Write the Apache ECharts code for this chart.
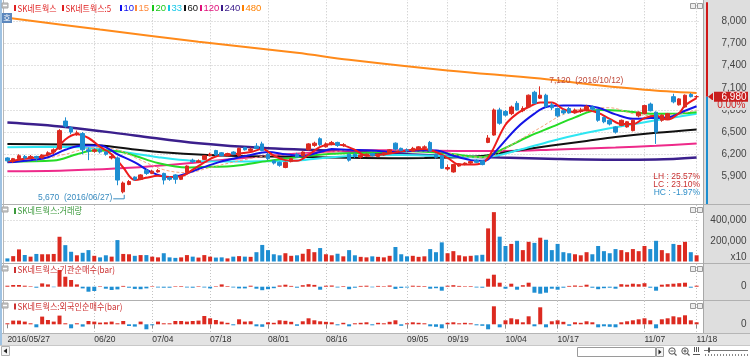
<!DOCTYPE html>
<html><head><meta charset="utf-8">
<script src="https://cdn.jsdelivr.net/npm/echarts@6.0.0/dist/echarts.min.js"></script>
<style>html,body{margin:0;padding:0;background:#fff;overflow:hidden}#c{width:750px;height:357px}</style>
</head><body><div id="c"></div>
<script>
// ---------------- DATA ----------------
const dates = ["2016/05/27","2016/05/30","2016/05/31","2016/06/01","2016/06/02","2016/06/03","2016/06/07","2016/06/08","2016/06/09","2016/06/10","2016/06/13","2016/06/14","2016/06/15","2016/06/16","2016/06/17","2016/06/20","2016/06/21","2016/06/22","2016/06/23","2016/06/24","2016/06/27","2016/06/28","2016/06/29","2016/06/30","2016/07/01","2016/07/04","2016/07/05","2016/07/06","2016/07/07","2016/07/08","2016/07/11","2016/07/12","2016/07/13","2016/07/14","2016/07/15","2016/07/18","2016/07/19","2016/07/20","2016/07/21","2016/07/22","2016/07/25","2016/07/26","2016/07/27","2016/07/28","2016/07/29","2016/08/01","2016/08/02","2016/08/03","2016/08/04","2016/08/05","2016/08/08","2016/08/09","2016/08/10","2016/08/11","2016/08/12","2016/08/16","2016/08/17","2016/08/18","2016/08/19","2016/08/22","2016/08/23","2016/08/24","2016/08/25","2016/08/26","2016/08/29","2016/08/30","2016/08/31","2016/09/01","2016/09/02","2016/09/05","2016/09/06","2016/09/07","2016/09/08","2016/09/09","2016/09/12","2016/09/13","2016/09/19","2016/09/20","2016/09/21","2016/09/22","2016/09/23","2016/09/26","2016/09/27","2016/09/28","2016/09/29","2016/09/30","2016/10/04","2016/10/05","2016/10/06","2016/10/07","2016/10/10","2016/10/11","2016/10/12","2016/10/13","2016/10/14","2016/10/17","2016/10/18","2016/10/19","2016/10/20","2016/10/21","2016/10/24","2016/10/25","2016/10/26","2016/10/27","2016/10/28","2016/10/31","2016/11/01","2016/11/02","2016/11/03","2016/11/04","2016/11/07","2016/11/08","2016/11/09","2016/11/10","2016/11/11","2016/11/14","2016/11/15","2016/11/16","2016/11/17","2016/11/18"];

const openP  = [6150,6100,6140,6170,6150,6170,6150,6190,6230,6270,6650,6560,6470,6480,6260,6240,6260,6230,6150,6150,5690,5790,5890,5860,5980,5940,5960,5940,5880,5920,5860,5950,6120,6090,6130,6180,6250,6220,6180,6230,6180,6290,6250,6310,6340,6200,6110,6090,6020,6100,6200,6180,6260,6320,6410,6300,6330,6360,6320,6200,6200,6160,6180,6210,6170,6190,6220,6350,6280,6260,6240,6270,6290,6360,6200,6180,6000,5960,6040,6060,6080,6120,6110,6360,6460,6800,6780,6750,6890,6790,6840,7040,6960,7000,6870,6820,6790,6820,6760,6780,6790,6840,6800,6700,6660,6570,6590,6570,6520,6720,6750,6880,6770,6660,6680,6980,6870,6840,7010,6980];
const closeP = [6110,6140,6180,6150,6170,6150,6190,6220,6260,6520,6580,6500,6490,6260,6240,6260,6230,6200,6170,5850,5810,5830,5860,5920,5940,5970,5980,5850,5860,5860,5900,6040,6100,6110,6180,6200,6190,6180,6210,6200,6280,6260,6270,6280,6250,6140,6080,6050,6090,6140,6160,6230,6340,6350,6330,6340,6360,6320,6330,6120,6170,6190,6200,6180,6200,6220,6260,6270,6250,6250,6280,6300,6300,6250,6160,6010,6020,6060,6070,6080,6100,6090,6060,6420,6800,6620,6730,6840,6800,6820,7000,6890,7000,6850,6830,6720,6760,6760,6800,6800,6850,6810,6660,6640,6610,6500,6660,6640,6660,6770,6860,6790,6500,6730,6750,6910,6950,7000,6980,6980];
const lowP   = [6090,6080,6120,6130,6140,6100,6140,6170,6200,6260,6560,6470,6450,6200,6120,6220,6210,6180,6130,5780,5670,5780,5840,5850,5920,5930,5950,5790,5840,5800,5850,5940,6080,6080,6120,6170,6180,6170,6170,6190,6170,6250,6240,6270,6240,6120,6060,6030,6010,6090,6150,6170,6250,6300,6310,6290,6320,6300,6300,6100,6150,6140,6170,6170,6160,6180,6210,6250,6240,6230,6230,6260,6270,6240,6140,6000,5980,5950,6030,6050,6060,6080,6050,6350,6450,6600,6710,6730,6790,6770,6830,6880,6950,6830,6800,6700,6740,6750,6750,6760,6780,6790,6640,6620,6590,6480,6580,6560,6510,6700,6740,6780,6340,6640,6670,6890,6860,6830,6970,6960];
const highP  = [6160,6150,6200,6190,6190,6180,6200,6240,6280,6540,6700,6580,6520,6500,6290,6280,6280,6240,6190,6170,5830,5850,5900,5930,6000,5990,6000,5950,5900,5930,5910,6050,6140,6130,6190,6220,6260,6230,6220,6240,6290,6300,6290,6350,6370,6220,6120,6100,6100,6150,6220,6240,6350,6370,6430,6360,6380,6370,6350,6210,6220,6200,6210,6220,6210,6230,6270,6360,6290,6280,6300,6310,6320,6380,6210,6190,6060,6070,6080,6090,6110,6130,6120,6460,6820,6830,6800,6860,6920,6850,7010,7060,7120,7020,6900,6830,6810,6840,6820,6830,6870,6860,6810,6710,6680,6580,6670,6650,6670,6780,6870,6900,6780,6740,6760,7020,6960,7010,7030,7000];

// trading volume (axis units, x10 shares)
const volume = [30000,52000,117000,63000,47000,73000,70000,70000,73000,239000,158000,94000,60000,84000,110000,55000,40000,60000,47000,207000,73000,70000,55000,62000,62000,47000,40000,80000,40000,35000,40000,62000,47000,38000,62000,47000,38000,40000,30000,47000,52000,47000,45000,90000,160000,110000,70000,60000,80000,55000,60000,75000,120000,90000,130000,70000,60000,75000,50000,110000,60000,45000,40000,50000,45000,40000,55000,140000,70000,50000,55000,45000,50000,120000,90000,185000,80000,100000,60000,50000,55000,60000,65000,320000,477000,240000,150000,170000,200000,110000,190000,180000,230000,210000,110000,170000,90000,80000,70000,60000,90000,70000,150000,100000,80000,120000,110000,90000,120000,100000,150000,120000,200000,110000,80000,170000,160000,190000,90000,60000];

// institutional net buying (bar)
const instNet = [10,17,17,10,5,-10,33,23,-5,167,100,67,23,-17,-50,-43,5,-20,-33,-27,8,-10,-22,-25,-17,5,-8,-10,-10,5,6,-8,-10,5,-8,-17,5,23,6,-8,-17,-17,10,-20,-35,-25,-15,12,20,8,-10,15,25,18,-30,10,12,-8,6,-25,-10,8,10,-6,8,5,12,-22,-12,-8,10,8,6,-20,-15,-40,10,15,8,5,6,-8,-10,80,120,40,-20,30,-30,15,40,-60,-70,-60,-20,-30,-10,8,12,8,20,-10,-25,-15,-10,-20,25,20,30,25,35,-10,-40,20,25,30,35,40,-10,10];

// foreign net buying (bar)
const foreignNet = [10,37,37,27,10,-30,77,43,27,87,10,-40,10,-23,33,27,17,20,27,10,33,-17,-23,27,-50,-10,27,10,10,33,33,27,33,37,83,60,43,27,15,-10,50,27,30,-20,-25,20,15,40,35,25,-15,30,60,40,30,25,20,-10,15,-20,10,15,20,-10,15,10,25,40,-15,10,20,15,10,-20,-25,-40,15,20,10,15,10,-10,-15,-50,180,-30,40,60,50,20,80,-20,170,-30,30,40,25,-15,20,15,30,20,-30,-20,-25,-30,20,30,40,50,60,40,-40,50,60,80,70,90,40,20];

// moving averages: [dayIndex, value]
const ma5 = [[0,6100],[3,6140],[6,6170],[8,6230],[10,6400],[12,6470],[14,6420],[16,6300],[18,6200],[20,6020],[22,5850],[24,5880],[26,5910],[28,5890],[30,5900],[32,5990],[34,6090],[36,6170],[39,6200],[42,6230],[44,6270],[46,6180],[48,6120],[50,6110],[52,6190],[54,6300],[56,6340],[58,6320],[60,6260],[62,6180],[64,6190],[66,6210],[68,6240],[70,6260],[72,6270],[74,6230],[76,6150],[78,6060],[80,6060],[82,6080],[83,6150],[84,6290],[86,6600],[88,6750],[90,6840],[92,6900],[94,6900],[96,6810],[98,6770],[100,6800],[102,6760],[104,6680],[106,6610],[108,6610],[110,6690],[112,6720],[114,6670],[116,6760],[117,6860],[119,6960]];
const ma10 = [[0,6090],[4,6120],[7,6160],[10,6260],[13,6320],[16,6320],[19,6200],[22,6090],[25,5950],[28,5890],[31,5940],[33,6000],[36,6080],[39,6140],[42,6190],[45,6230],[48,6200],[51,6180],[54,6230],[56,6270],[59,6260],[63,6250],[67,6230],[71,6250],[74,6250],[77,6180],[80,6120],[82,6110],[83,6130],[85,6300],[88,6560],[91,6750],[93,6840],[96,6860],[99,6860],[102,6830],[105,6740],[108,6680],[111,6690],[114,6700],[117,6790],[119,6850]];
const ma15 = [[0,6100],[5,6120],[10,6200],[15,6290],[19,6260],[23,6120],[27,5990],[31,5950],[35,6020],[40,6110],[45,6180],[50,6200],[55,6220],[60,6260],[65,6240],[70,6240],[75,6230],[80,6160],[83,6160],[86,6280],[89,6420],[92,6560],[96,6740],[100,6820],[104,6830],[108,6750],[112,6720],[116,6750],[119,6800]];
const ma20 = [[0,6100],[8,6115],[12,6200],[15,6250],[19,6240],[22,6180],[26,6080],[31,6020],[35,6030],[39,6040],[45,6110],[50,6160],[56,6205],[60,6215],[66,6230],[70,6240],[76,6210],[82,6160],[85,6250],[90,6440],[94,6570],[98,6700],[102,6800],[106,6790],[111,6750],[115,6750],[119,6770]];
const ma33 = [[0,6295],[8,6300],[14,6285],[20,6230],[26,6160],[32,6110],[38,6100],[44,6105],[50,6115],[56,6160],[62,6185],[68,6190],[74,6180],[80,6160],[83,6165],[88,6250],[94,6380],[100,6490],[106,6580],[112,6660],[119,6750]];
const ma60 = [[0,6340],[10,6332],[16,6320],[22,6265],[28,6220],[33,6195],[40,6175],[45,6168],[52,6162],[59,6152],[66,6147],[72,6148],[78,6158],[82,6175],[88,6250],[94,6318],[100,6380],[105,6432],[112,6490],[119,6536]];
const ma120 = [[0,5970],[10,5980],[22,6020],[33,6090],[45,6180],[56,6236],[62,6255],[70,6250],[78,6245],[86,6245],[95,6265],[105,6290],[112,6315],[119,6345]];
const ma240 = [[0,6630],[10,6570],[22,6455],[33,6350],[45,6282],[56,6250],[65,6215],[75,6180],[85,6155],[95,6135],[105,6125],[112,6128],[119,6155]];
const ma480 = [[0,8050],[16,7890],[33,7725],[50,7575],[59,7480],[76,7335],[92,7225],[102,7135],[110,7075],[119,7030]];

// tick labels
const priceTicks = [5900,6200,6500,6800,7100,7400,7700,8000];
const volumeTicks = [200000,400000];
const dateLabelIdx = [0,15,25,35,45,55,69,76,86,95,110,119];

// ---------------- CHART ----------------
const chart = echarts.init(document.getElementById('c'), null, {renderer:'canvas'});
const FONT = "'Liberation Sans', Arial, sans-serif";
const KFONT = "'Noto Sans CJK KR', sans-serif";
const RED = '#dc2a20', BLUE = '#1e8ed2';
const GRIDC = '#c4c4c4';
const labelSet = new Set(dateLabelIdx);
const gridSet = new Set(dateLabelIdx.filter(i => i > 0));
const fmt = v => Number(v).toLocaleString('en-US');

const GL = 4.5, GW = 695;
const grids = [
  {left:GL, width:GW, top:-0.7, height:199.2, outerBoundsMode:'none'},
  {left:GL, width:GW, top:205, height:56.5, outerBoundsMode:'none'},
  {left:GL, width:GW, top:264, height:37, outerBoundsMode:'none'},
  {left:GL, width:GW, top:301, height:32, outerBoundsMode:'none'}
];

function xa(i, showLabels){
  return {
    type:'category', gridIndex:i, data:dates, boundaryGap:true,
    axisLine:{show:false},
    axisTick:{show:showLabels, interval:(idx)=>labelSet.has(idx), alignWithLabel:true, length:4, lineStyle:{color:'#888'}},
    axisLabel:{show:showLabels, interval:(idx)=>labelSet.has(idx), formatter:(v,idx)=> idx===0 ? v : v.slice(5),
      align:'left', margin:2, fontSize:8.5, color:'#333', fontFamily:FONT},
    splitLine:{show:true, interval:(idx)=>gridSet.has(idx), alignWithLabel:true, lineStyle:{color:GRIDC, type:[1,2], width:1}}
  };
}
function ya(i, min, max, interval, fmtFn, split){
  return {
    type:'value', gridIndex:i, min:min, max:max, interval:interval, position:'right', offset:7,
    axisLine:{show:false}, axisTick:{show:false},
    axisLabel:{margin:40, align:'right', fontSize:10, color:'#444', fontFamily:FONT, formatter:fmtFn},
    splitLine:{show:split, showMinLine:false, showMaxLine:false, lineStyle:{color:GRIDC, type:[1,2], width:1}}
  };
}

const candleData = openP.map((o,i)=>[o, closeP[i], lowP[i], highP[i]]);
const upDay = openP.map((o,i)=> closeP[i] >= o);

function maSeries(name, data, color, width, dashed){
  return {name, type:'line', xAxisIndex:0, yAxisIndex:0, data, smooth:0.35, showSymbol:false, symbol:'none',
    silent:true, clip:true, z:3, lineStyle:{color, width, type: dashed ? [3,2] : 'solid'}};
}

const option = {
  animation:false,
  backgroundColor:'#ffffff',
  grid: grids,
  xAxis: [xa(0,false), xa(1,false), xa(2,false), xa(3,true)],
  yAxis: [
    ya(0, 5600, 8300, 300, v => priceTicks.includes(v) ? fmt(v) : '', true),
    ya(1, 0, 546000, 200000, v => volumeTicks.includes(v) ? fmt(v) : '', true),
    ya(2, -143, 227, 143, v => v === 0 ? '0' : '', false),
    ya(3, -87, 233, 87, v => v === 0 ? '0' : '', false)
  ],
  series: [
    maSeries('480', ma480, '#ff8a1a', 2),
    maSeries('240', ma240, '#3b1f8c', 2.5),
    maSeries('120', ma120, '#ee2a8a', 2),
    maSeries('60', ma60, '#111111', 2),
    maSeries('33', ma33, '#2ee6f2', 2),
    maSeries('20', ma20, '#26dc26', 2),
    maSeries('15', ma15, '#f5a57c', 1, true),
    {name:'SK네트웍스', type:'candlestick', xAxisIndex:0, yAxisIndex:0, data:candleData, barWidth:4, z:4,
      itemStyle:{color:RED, color0:BLUE, borderColor:RED, borderColor0:BLUE, borderWidth:1}},
    maSeries('10', ma10, '#1414e6', 2),
    maSeries('5', ma5, '#ee1c1c', 2),
    {name:'거래량', type:'bar', xAxisIndex:1, yAxisIndex:1, data:volume, barWidth:4,
      itemStyle:{color:(p)=> upDay[p.dataIndex] ? RED : BLUE}},
    {name:'기관순매수', type:'bar', xAxisIndex:2, yAxisIndex:2, data:instNet, barWidth:4,
      itemStyle:{color:(p)=> p.value >= 0 ? RED : BLUE}},
    {name:'외국인순매수', type:'bar', xAxisIndex:3, yAxisIndex:3, data:foreignNet, barWidth:4,
      itemStyle:{color:(p)=> p.value >= 0 ? RED : BLUE}}
  ]
};
chart.setOption(option);

// ---------------- decorations / annotations ----------------
const toPx = (i, v) => chart.convertToPixel({xAxisIndex:0, yAxisIndex:0}, [i, v]);
const G = [];
function rect(x,y,w,h,fill,stroke,z){ G.push({type:'rect', silent:true, z:z==null?-5:z, shape:{x,y,width:w,height:h}, style:{fill:fill||'none', stroke:stroke||null, lineWidth:1}}); }
function line(x1,y1,x2,y2,color,w,z){ G.push({type:'line', silent:true, z:z==null?-4:z, shape:{x1,y1,x2,y2}, style:{stroke:color, lineWidth:w||1}}); }
function txt(x,y,s,color,o){ o=o||{}; G.push({type:'text', silent:true, z:o.z==null?20:o.z, x:x, y:y, scaleX:o.sx||1,
  style:{text:s, fill:color, fontSize:o.fs||9, fontFamily:o.ff||KFONT, fontWeight:o.fw||'normal', align:o.align||'left', verticalAlign:'middle',
  backgroundColor:o.bg||null, padding:o.pad||0}}); }

// backgrounds
rect(704, 0, 46, 333, '#dedede', null, -6);
rect(0, 333, 750, 12, '#e3e3e3', null, -6);
line(0, 333.5, 750, 333.5, '#b5b5b5', 1, -3);
line(0, 345.5, 750, 345.5, '#c8c8c8', 1, -3);
line(0, 204.5, 750, 204.5, '#b0b0b0', 1, -3);
line(0, 263.5, 750, 263.5, '#b0b0b0', 1, -3);
line(0, 300.5, 750, 300.5, '#b0b0b0', 1, -3);
line(703.5, 0, 703.5, 333, '#a8a8a8', 1, -3);
line(3.5, 0, 3.5, 333, '#b8b8b8', 1, -3);
rect(0, 0, 2, 345, '#9fc2e2', null, -2);

// panel icons
[[2,3],[2,207],[2,266],[2,303]].forEach(([x,y])=>{ rect(x, y, 6, 5, '#c9c9c9', '#a5a5a5', 5); line(x+1,y+2.5,x+5,y+2.5,'#ffffff',1,6); });
[3,207,266,303].forEach(y=>{ rect(690.5, y+0.5, 5, 5, '#eeeeee', '#9a9a9a', 5); rect(697.5, y+0.5, 5, 5, '#eeeeee', '#9a9a9a', 5); });
rect(2, 13, 10, 10, '#5b87bd', null, 5);
txt(7, 18, '호', '#ffffff', {fs:8, align:'center'});

// main legend
const legend = [
  [14, 'SK네트웍스', '#e02020'], [62, 'SK네트웍스:5', '#e02020'], [120, '10', '#1010ee'], [135, '15', '#ff8a3d'],
  [152, '20', '#19c819'], [168, '33', '#15c8e8'], [184, '60', '#111111'], [200, '120', '#e0107a'],
  [221, '240', '#3a1a8a'], [242, '480', '#ff8000']
];
legend.forEach(([x, s, c])=>{ rect(x, 5, 2, 6, c, null, 5); txt(x+3.5, 8.5, s, c, {sx: /[가-힣]/.test(s)?0.88:1, fs: /[가-힣]/.test(s)?9:9.5, ff: /[가-힣]/.test(s)?KFONT:FONT}); });

// panel titles
[[211, 'SK네트웍스:거래량', '#3c9a3c'], [270, 'SK네트웍스:기관순매수(bar)', '#cc3030'], [306.5, 'SK네트웍스:외국인순매수(bar)', '#cc3030']]
  .forEach(([y, s, c])=>{ rect(14, y-3, 2, 6, c, null, 5); txt(17.5, y, s, c, {sx:0.9, fs:9}); });

// volume unit
txt(746.5, 257.3, 'x10', '#444', {ff:FONT, fs:10, align:'right'});

// current price axis line (red above, blue below)
const last = closeP.length - 1;
const pyLast = toPx(last, closeP[last])[1];
const pyTop = toPx(0, 8300)[1] + 3;
G.push({type:'rect', silent:true, z:8, shape:{x:706, y:pyTop, width:2, height:pyLast-pyTop}, style:{fill:'#d01818'}});
G.push({type:'rect', silent:true, z:9, shape:{x:706, y:pyLast, width:2, height:204-pyLast}, style:{fill:'#1c8ed0'}});
G.push({type:'polygon', silent:true, z:10, shape:{points:[[708, pyLast],[713, pyLast-4],[713, pyLast+4]]}, style:{fill:'#d01818'}});
const prevClose = closeP[last-1];
const chg = ((closeP[last]-prevClose)/prevClose*100).toFixed(2) + '%';
txt(746.5, pyLast+8.3, chg, '#d02020', {ff:FONT, fs:10, align:'right', bg:'#dedede', pad:[0,1,0,6], z:12});
rect(714, pyLast-5, 34, 10, '#c81e1e', null, 13);
txt(746.5, pyLast+0.3, fmt(closeP[last]), '#ffffff', {ff:FONT, fs:10, align:'right', z:14});

// high / low annotations
let hiI = 0, loI = 0;
highP.forEach((v,i)=>{ if (v > highP[hiI]) hiI = i; });
lowP.forEach((v,i)=>{ if (v < lowP[loI]) loI = i; });
const hiPx = toPx(hiI, highP[hiI]);
const loPx = toPx(loI, lowP[loI]);
txt(hiPx[0]+9, hiPx[1]-6, fmt(highP[hiI]) + '  (' + dates[hiI] + ')', '#c04a3a', {ff:FONT, fs:8.5});
const loText = fmt(lowP[loI]) + '  (' + dates[loI] + ')';
txt(loPx[0]-11, loPx[1]+4.3, loText, '#3a8cc0', {ff:FONT, fs:8.5, align:'right'});
G.push({type:'polyline', silent:true, z:9, shape:{points:[[loPx[0]-10, loPx[1]+5.5],[loPx[0]+1, loPx[1]+5.5],[loPx[0]+1, loPx[1]+1.5]]}, style:{stroke:'#3a8cc0', lineWidth:1, fill:null}});

// range statistics
const lastC = closeP[last];
const pct = v => (v*100).toFixed(2) + '%';
txt(700, 177, 'LH : ' + pct((highP[hiI]-lowP[loI])/lowP[loI]), '#c83232', {ff:FONT, fs:8.5, align:'right'});
txt(700, 185, 'LC : ' + pct((lastC-lowP[loI])/lowP[loI]), '#c83232', {ff:FONT, fs:8.5, align:'right'});
txt(700, 193, 'HC : ' + pct((lastC-highP[hiI])/highP[hiI]), '#2e8ec8', {ff:FONT, fs:8.5, align:'right'});

// bottom toolbar
rect(1.5, 346.5, 8, 9, '#f4f4f4', '#b0b0b0', 5);
G.push({type:'polygon', silent:true, z:6, shape:{points:[[3.5,351],[7,348.5],[7,353.5]]}, style:{fill:'#222'}});
rect(577.5, 347.5, 78, 9, '#ffffff', '#9a9a9a', 5);
rect(656.5, 347.5, 7, 9, '#f4f4f4', '#9a9a9a', 5);
G.push({type:'polygon', silent:true, z:6, shape:{points:[[658.5,349.5],[661.5,352],[658.5,354.5]]}, style:{fill:'#222'}});
[[672,351],[685,351]].forEach(([cx,cy],k)=>{
  G.push({type:'circle', silent:true, z:6, shape:{cx,cy,r:3.2}, style:{fill:'none', stroke:'#555', lineWidth:1}});
  line(cx+2.3, cy+2.3, cx+4.5, cy+4.5, '#555', 1.2, 6);
  line(cx-1.6, cy, cx+1.6, cy, '#555', 1, 6);
  if (k===1) line(cx, cy-1.6, cx, cy+1.6, '#555', 1, 6);
});
[694,696,698].forEach(x=>line(x+0.5, 347, x+0.5, 352, '#555', 1, 6));
line(693, 354.5, 700, 354.5, '#555', 1, 6);
line(704, 350.5, 748, 350.5, '#777', 1, 6);
rect(708, 347.5, 2, 5, '#555', null, 6);
for (let x = 705; x < 749; x += 3) line(x+0.5, 354, x+0.5, 356, '#888', 1, 6);

chart.setOption({graphic: G});
</script>
</body></html>
